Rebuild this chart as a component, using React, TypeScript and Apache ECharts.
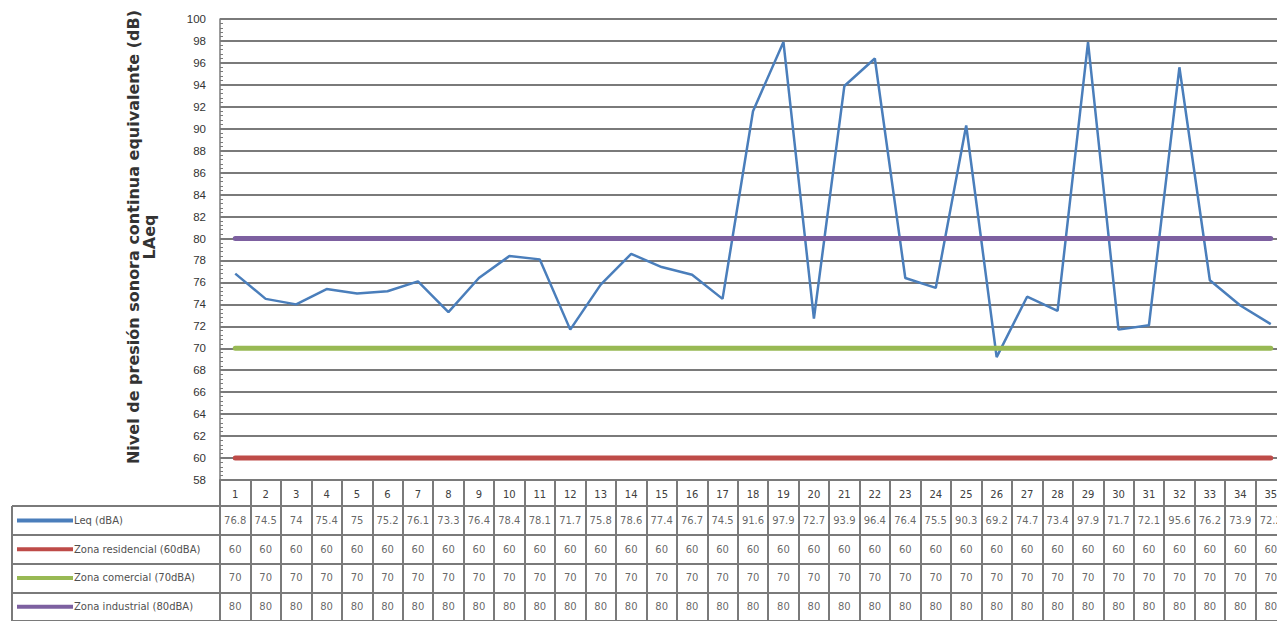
import { useEffect, useRef } from "react";
import * as echarts from "echarts";

const categories = ["1","2","3","4","5","6","7","8","9","10","11","12","13","14","15","16","17","18","19","20","21","22","23","24","25","26","27","28","29","30","31","32","33","34","35"];
const leq = [76.8, 74.5, 74, 75.4, 75, 75.2, 76.1, 73.3, 76.4, 78.4, 78.1, 71.7, 75.8, 78.6, 77.4, 76.7, 74.5, 91.6, 97.9, 72.7, 93.9, 96.4, 76.4, 75.5, 90.3, 69.2, 74.7, 73.4, 97.9, 71.7, 72.1, 95.6, 76.2, 73.9, 72.2];
const residencial = [60,60,60,60,60,60,60,60,60,60,60,60,60,60,60,60,60,60,60,60,60,60,60,60,60,60,60,60,60,60,60,60,60,60,60];
const comercial = [70,70,70,70,70,70,70,70,70,70,70,70,70,70,70,70,70,70,70,70,70,70,70,70,70,70,70,70,70,70,70,70,70,70,70];
const industrial = [80,80,80,80,80,80,80,80,80,80,80,80,80,80,80,80,80,80,80,80,80,80,80,80,80,80,80,80,80,80,80,80,80,80,80];
const seriesNames = ["Leq (dBA)", "Zona residencial (60dBA)", "Zona comercial (70dBA)", "Zona industrial (80dBA)"];
const seriesColors = ["#4a7ebb", "#be4b48", "#98b954", "#7d60a0"];
const yTitle = "Nivel de presión sonora continua equivalente (dB)\nLAeq";

export default function App() {
  const ref = useRef<HTMLDivElement>(null);
  useEffect(() => {
    if (!ref.current) return;
    const chart = echarts.init(ref.current, null, { renderer: "svg" });
    const allSeries = [leq, residencial, comercial, industrial];
    const tableData: any[] = [];
    allSeries.forEach((arr, r) => {
      arr.forEach((v, i) => tableData.push([i, r, String(v)]));
    });
    const gridColor = "#7a7a7a";
    const rich: any = {
      t: { fontSize: 10, color: "#505050", fontFamily: "DejaVu Sans", verticalAlign: "middle", padding: [0, 0, 0, 1] },
    };
    seriesColors.forEach((c, i) => {
      rich["l" + i] = { width: 56, height: 4, backgroundColor: c, verticalAlign: "middle" };
    });
    chart.setOption({
      animation: false,
      backgroundColor: "#ffffff",
      grid: [
        { left: 220, right: 0, top: 19, bottom: 141 },
        { left: 220, right: 0, top: 506, bottom: -3 },
      ],
      xAxis: [
        {
          gridIndex: 0,
          type: "category",
          data: categories,
          boundaryGap: true,
          axisLine: { show: true, lineStyle: { color: gridColor, width: 2 } },
          axisTick: { show: true, length: 26, interval: 0, lineStyle: { color: gridColor, width: 2 } },
          axisLabel: { interval: 0, fontSize: 10, color: "#404040", fontFamily: "DejaVu Sans", margin: 9 },
          splitLine: { show: false },
        },
        {
          gridIndex: 1,
          type: "category",
          data: categories,
          boundaryGap: true,
          axisLine: { show: false },
          axisTick: { show: false },
          axisLabel: { show: false },
          splitLine: { show: true, interval: 0, lineStyle: { color: gridColor, width: 2 } },
        },
      ],
      yAxis: [
        {
          gridIndex: 0,
          type: "value",
          min: 58,
          max: 100,
          interval: 2,
          axisLine: { show: true, lineStyle: { color: gridColor, width: 1.5 } },
          axisTick: { show: true, inside: true, length: 5, lineStyle: { color: gridColor } },
          minorTick: { show: true, splitNumber: 5, length: 3, lineStyle: { color: gridColor } },
          axisLabel: { fontSize: 11.5, color: "#333", fontFamily: "Liberation Sans", margin: 14 },
          splitLine: { show: true, lineStyle: { color: gridColor, width: 2 } },
        },
        {
          gridIndex: 1,
          type: "category",
          inverse: true,
          data: seriesNames,
          boundaryGap: true,
          axisLine: { show: true, lineStyle: { color: gridColor, width: 2 } },
          axisTick: { show: true, length: 208, interval: 0, lineStyle: { color: gridColor, width: 2 } },
          axisLabel: {
            interval: 0,
            align: "left",
            margin: 203,
            formatter: (v: string, i: number) => `{l${i}| }{t|${v}}`,
            rich,
          },
          splitLine: { show: true, interval: 0, lineStyle: { color: gridColor, width: 2 } },
        },
      ],
      graphic: [
        {
          type: "line",
          shape: { x1: 12, y1: 506, x2: 12, y2: 621 },
          style: { stroke: gridColor, lineWidth: 2 },
        },
        {
          type: "text",
          x: 141,
          y: 237,
          rotation: Math.PI / 2,
          style: {
            text: yTitle,
            font: "bold 16px 'DejaVu Sans'",
            fill: "#333",
            textAlign: "center",
            textVerticalAlign: "middle",
            lineHeight: 16,
          },
        },
      ],
      series: [
        {
          name: seriesNames[0],
          type: "line",
          data: leq,
          symbol: "none",
          lineStyle: { color: seriesColors[0], width: 2.5 },
          itemStyle: { color: seriesColors[0] },
        },
        {
          name: seriesNames[1],
          type: "line",
          data: residencial,
          symbol: "none",
          lineStyle: { color: seriesColors[1], width: 5, cap: "round" },
          itemStyle: { color: seriesColors[1] },
        },
        {
          name: seriesNames[2],
          type: "line",
          data: comercial,
          symbol: "none",
          lineStyle: { color: seriesColors[2], width: 5, cap: "round" },
          itemStyle: { color: seriesColors[2] },
        },
        {
          name: seriesNames[3],
          type: "line",
          data: industrial,
          symbol: "none",
          lineStyle: { color: seriesColors[3], width: 5, cap: "round" },
          itemStyle: { color: seriesColors[3] },
        },
        {
          type: "scatter",
          xAxisIndex: 1,
          yAxisIndex: 1,
          data: tableData,
          symbolSize: 1,
          silent: true,
          itemStyle: { color: "transparent" },
          label: {
            show: true,
            position: "inside",
            formatter: (p: any) => p.data[2],
            fontSize: 10,
            color: "#404040",
            fontFamily: "DejaVu Sans",
          },
        },
      ],
    });
    return () => chart.dispose();
  }, []);
  return (
    <div style={{ position: "absolute", left: 0, top: 0, width: 1277, height: 621, overflow: "hidden" }}>
      <div ref={ref} style={{ width: 1286, height: 621 }} />
    </div>
  );
}
